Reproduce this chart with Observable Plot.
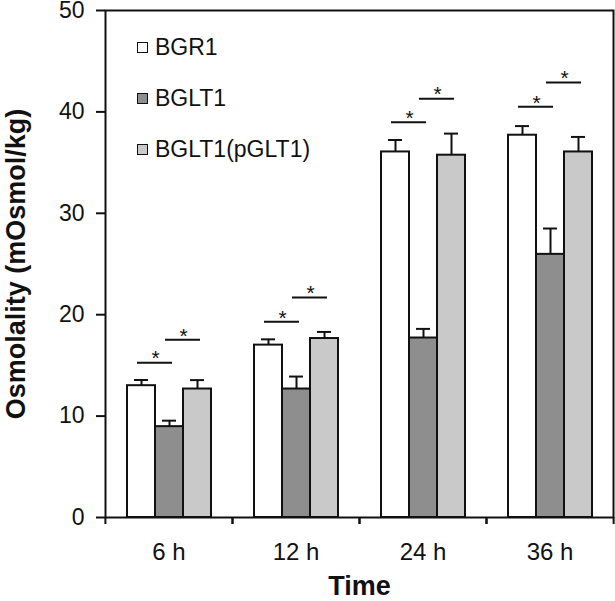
<!DOCTYPE html>
<html><head><meta charset="utf-8">
<script src="https://cdn.jsdelivr.net/npm/d3@7"></script>
<script src="https://cdn.jsdelivr.net/npm/@observablehq/plot@0.6"></script>
<style>
body{margin:0;background:#fff;}
#wrap{position:relative;width:615px;height:601px;font-family:"Liberation Sans",Arial,sans-serif;}
#legend{position:absolute;left:137px;top:22px;}
.row{display:flex;align-items:center;height:51px;font-size:23px;color:#111;}
.sw{width:9px;height:9px;border:1.5px solid #111;margin-right:7px;}
#wrap g[aria-label="y-axis label"], #wrap g[aria-label="fx-axis label"]{font-size:27px;font-weight:bold;}
</style></head><body><div id="wrap"><div id="legend"></div></div>
<script>
const times = ["6 h", "12 h", "24 h", "36 h"];
const series = ["BGR1", "BGLT1", "BGLT1(pGLT1)"];
const colors = ["#ffffff", "#8e8e8e", "#c9c9c9"];
const bgr1 = [13.0, 17.0, 36.05, 37.7];
const bglt1 = [8.96, 12.67, 17.7, 25.95];
const pglt1 = [12.67, 17.65, 35.73, 36.05];
const bgr1Err = [0.56, 0.57, 1.18, 0.9];
const bglt1Err = [0.59, 1.23, 0.9, 2.55];
const pglt1Err = [0.88, 0.65, 2.13, 1.48];
const sigLow = [15.26, 19.3, 38.98, 40.5];
const sigHigh = [17.52, 21.7, 41.3, 42.9];
const yTicks = [0, 10, 20, 30, 40, 50];
const yLabel = "Osmolality (mOsmol/kg)";
const xLabel = "Time";

const values = [bgr1, bglt1, pglt1];
const errs = [bgr1Err, bglt1Err, pglt1Err];
const rows = [];
times.forEach((t, i) => series.forEach((s, j) => rows.push({time: t, series: s, value: values[j][i], err: errs[j][i]})));
const sigRows = [];
times.forEach((t, i) => {
  sigRows.push({time: t, a: series[0], b: series[1], level: sigLow[i]});
  sigRows.push({time: t, a: series[1], b: series[2], level: sigHigh[i]});
});

const chart = Plot.plot({
  width: 615, height: 601,
  marginLeft: 104, marginRight: 2, marginTop: 10, marginBottom: 84,
  style: {fontFamily: "Liberation Sans, Arial, sans-serif", fontSize: "24px", color: "#111", background: "white"},
  fx: {domain: times, padding: 0},
  x: {domain: series, paddingInner: 0, paddingOuter: 0.717, axis: null},
  y: {domain: [0, 50]},
  color: {domain: series, range: colors},
  marks: [
    Plot.barY(rows, {fx: "time", x: "series", y: "value", fill: "series", stroke: "#111", strokeWidth: 2}),
    Plot.ruleX(rows, {fx: "time", x: "series", y1: "value", y2: d => d.value + d.err, stroke: "#111", strokeWidth: 2}),
    Plot.tickY(rows, {fx: "time", x: "series", y: d => d.value + d.err, stroke: "#111", strokeWidth: 2, insetLeft: 7, insetRight: 7}),
    Plot.ruleY(sigRows, {fx: "time", x1: "a", x2: "b", y: "level", stroke: "#111", strokeWidth: 2, insetLeft: 10, insetRight: 11}),
    Plot.text(sigRows, {fx: "time", x: "a", y: "level", text: () => "*", dx: 14, dy: -4, fontSize: 21, fill: "#111"}),
    Plot.frame({facet: "super", stroke: "#111", strokeWidth: 2}),
    Plot.axisY({ticks: yTicks, tickSize: 9, tickPadding: 12, fontSize: 23, strokeWidth: 2, label: yLabel, labelAnchor: "center", labelArrow: "none", labelOffset: 100}),
    Plot.axisFx({anchor: "bottom", tickSize: 0, tickPadding: 25, fontSize: 24, label: xLabel, labelAnchor: "center", labelOffset: 77}),
    Plot.axisFx({anchor: "bottom", tickSize: 7, tickFormat: () => "", label: null, dx: 63.6, strokeWidth: 2}),
    Plot.axisFx({anchor: "bottom", tickSize: 7, tickFormat: () => "", label: null, dx: -63.6, strokeWidth: 2})
  ]
});
document.getElementById("wrap").prepend(chart);

const legend = document.getElementById("legend");
series.forEach((s, j) => {
  const row = document.createElement("div");
  row.className = "row";
  const sw = document.createElement("span");
  sw.className = "sw";
  sw.style.background = colors[j];
  const lab = document.createElement("span");
  lab.textContent = s;
  row.append(sw, lab);
  legend.append(row);
});
</script></body></html>
